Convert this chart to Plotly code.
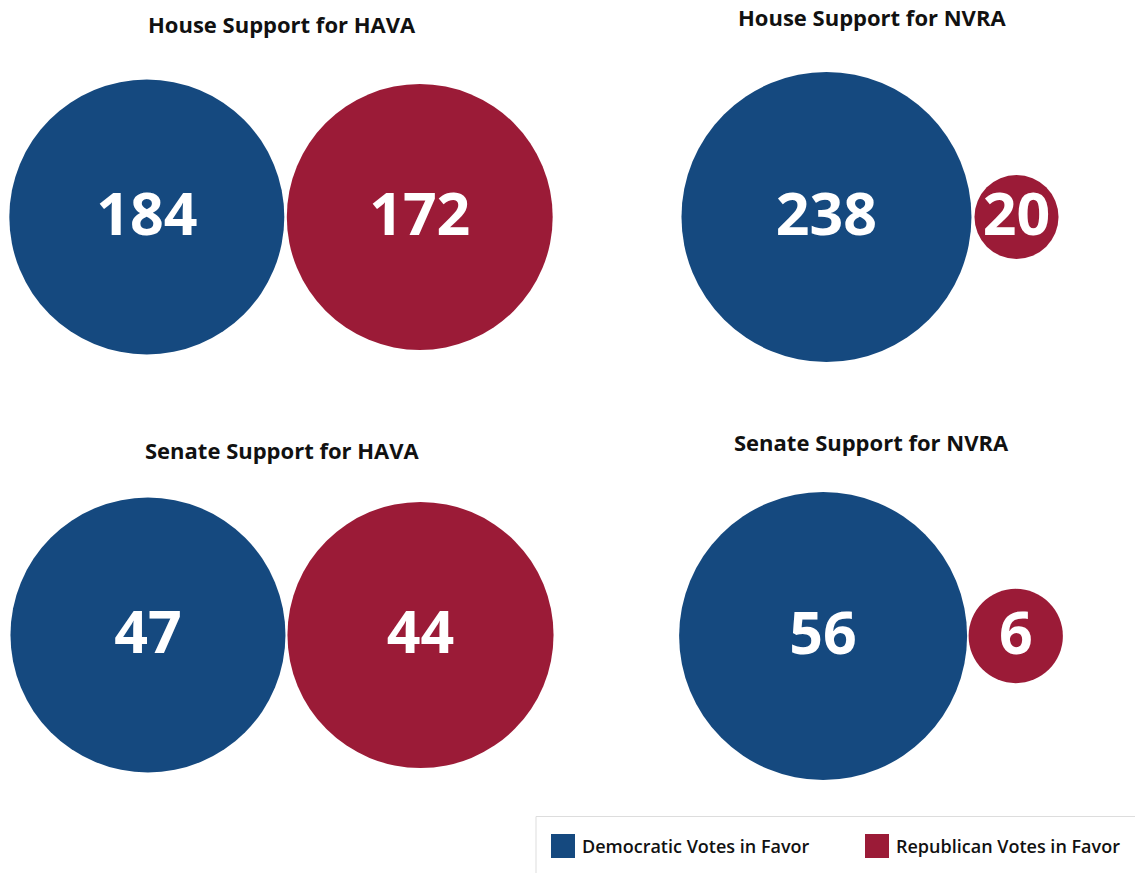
import math
import plotly.graph_objects as go

# ---- data ----
titles = ["House Support for HAVA", "House Support for NVRA",
          "Senate Support for HAVA", "Senate Support for NVRA"]
dem_votes = [184, 238, 47, 56]
rep_votes = [172, 20, 44, 6]
legend_labels = ["Democratic Votes in Favor", "Republican Votes in Favor"]

# ---- style / layout constants ----
W, H = 1135, 873
BLUE = "#15497f"
RED = "#9b1b37"
pair_cx = [281, 870, 282, 871]
pair_cy = [217, 217, 635, 636]
r_max = [137.5, 145, 137.5, 144]
gap = [2.5, 3, 2, 1.5]
title_y = [24, 17, 450, 442]
title_x = [282, 872, 282, 871.5]
label_dy = 3  # small downward nudge of the value labels (px)
NUM_FONT = dict(family="Open Sans", size=59, color="white", weight=700)
TITLE_FONT = dict(family="Open Sans", size=22, color="#111111", weight=700)
LEG_FONT = dict(family="Open Sans", size=18, color="#111111", weight=600)

fig = go.Figure()

for i in range(4):
    vmax = max(dem_votes[i], rep_votes[i])
    rd = r_max[i] * math.sqrt(dem_votes[i] / vmax)
    rr = r_max[i] * math.sqrt(rep_votes[i] / vmax)
    total_w = 2 * rd + gap[i] + 2 * rr
    left = pair_cx[i] - total_w / 2
    xs = [left + rd, left + 2 * rd + gap[i] + rr]
    ys = [pair_cy[i], pair_cy[i]]
    fig.add_trace(go.Scatter(
        x=xs, y=ys, mode="markers",
        marker=dict(size=[2 * rd, 2 * rr], color=[BLUE, RED],
                    line=dict(width=0), opacity=1),
        hoverinfo="skip", showlegend=False, cliponaxis=False,
    ))
    fig.add_trace(go.Scatter(
        x=xs, y=[y + label_dy for y in ys], mode="text",
        text=[str(dem_votes[i]), str(rep_votes[i])],
        textposition="middle center", textfont=NUM_FONT,
        hoverinfo="skip", showlegend=False, cliponaxis=False,
    ))
    fig.add_annotation(x=title_x[i], y=title_y[i], xref="x", yref="y",
                       text=titles[i], showarrow=False, font=TITLE_FONT,
                       xanchor="center", yanchor="middle")

# ---- legend (drawn) ----
fig.add_shape(type="rect", x0=536, x1=W + 5, y0=816.5, y1=H + 5,
              xref="x", yref="y", line=dict(color="#dddddd", width=1),
              fillcolor="white", layer="below")
leg_sq_x = [551, 865]
leg_colors = [BLUE, RED]
for j in range(2):
    fig.add_shape(type="rect", x0=leg_sq_x[j], x1=leg_sq_x[j] + 24,
                  y0=834, y1=858, xref="x", yref="y",
                  line=dict(width=0), fillcolor=leg_colors[j])
    fig.add_annotation(x=leg_sq_x[j] + 29, y=846, xref="x", yref="y",
                       text=legend_labels[j], showarrow=False, font=LEG_FONT,
                       xanchor="left", yanchor="middle")

fig.update_layout(
    width=W, height=H, margin=dict(l=0, r=0, t=0, b=0),
    paper_bgcolor="white", plot_bgcolor="white",
    xaxis=dict(range=[0, W], visible=False, fixedrange=True),
    yaxis=dict(range=[H, 0], visible=False, fixedrange=True),
    showlegend=False,
)
fig.write_html("out.html", config={"displayModeBar": False},
               post_script="document.body.style.margin='0';document.body.style.overflow='hidden';")
